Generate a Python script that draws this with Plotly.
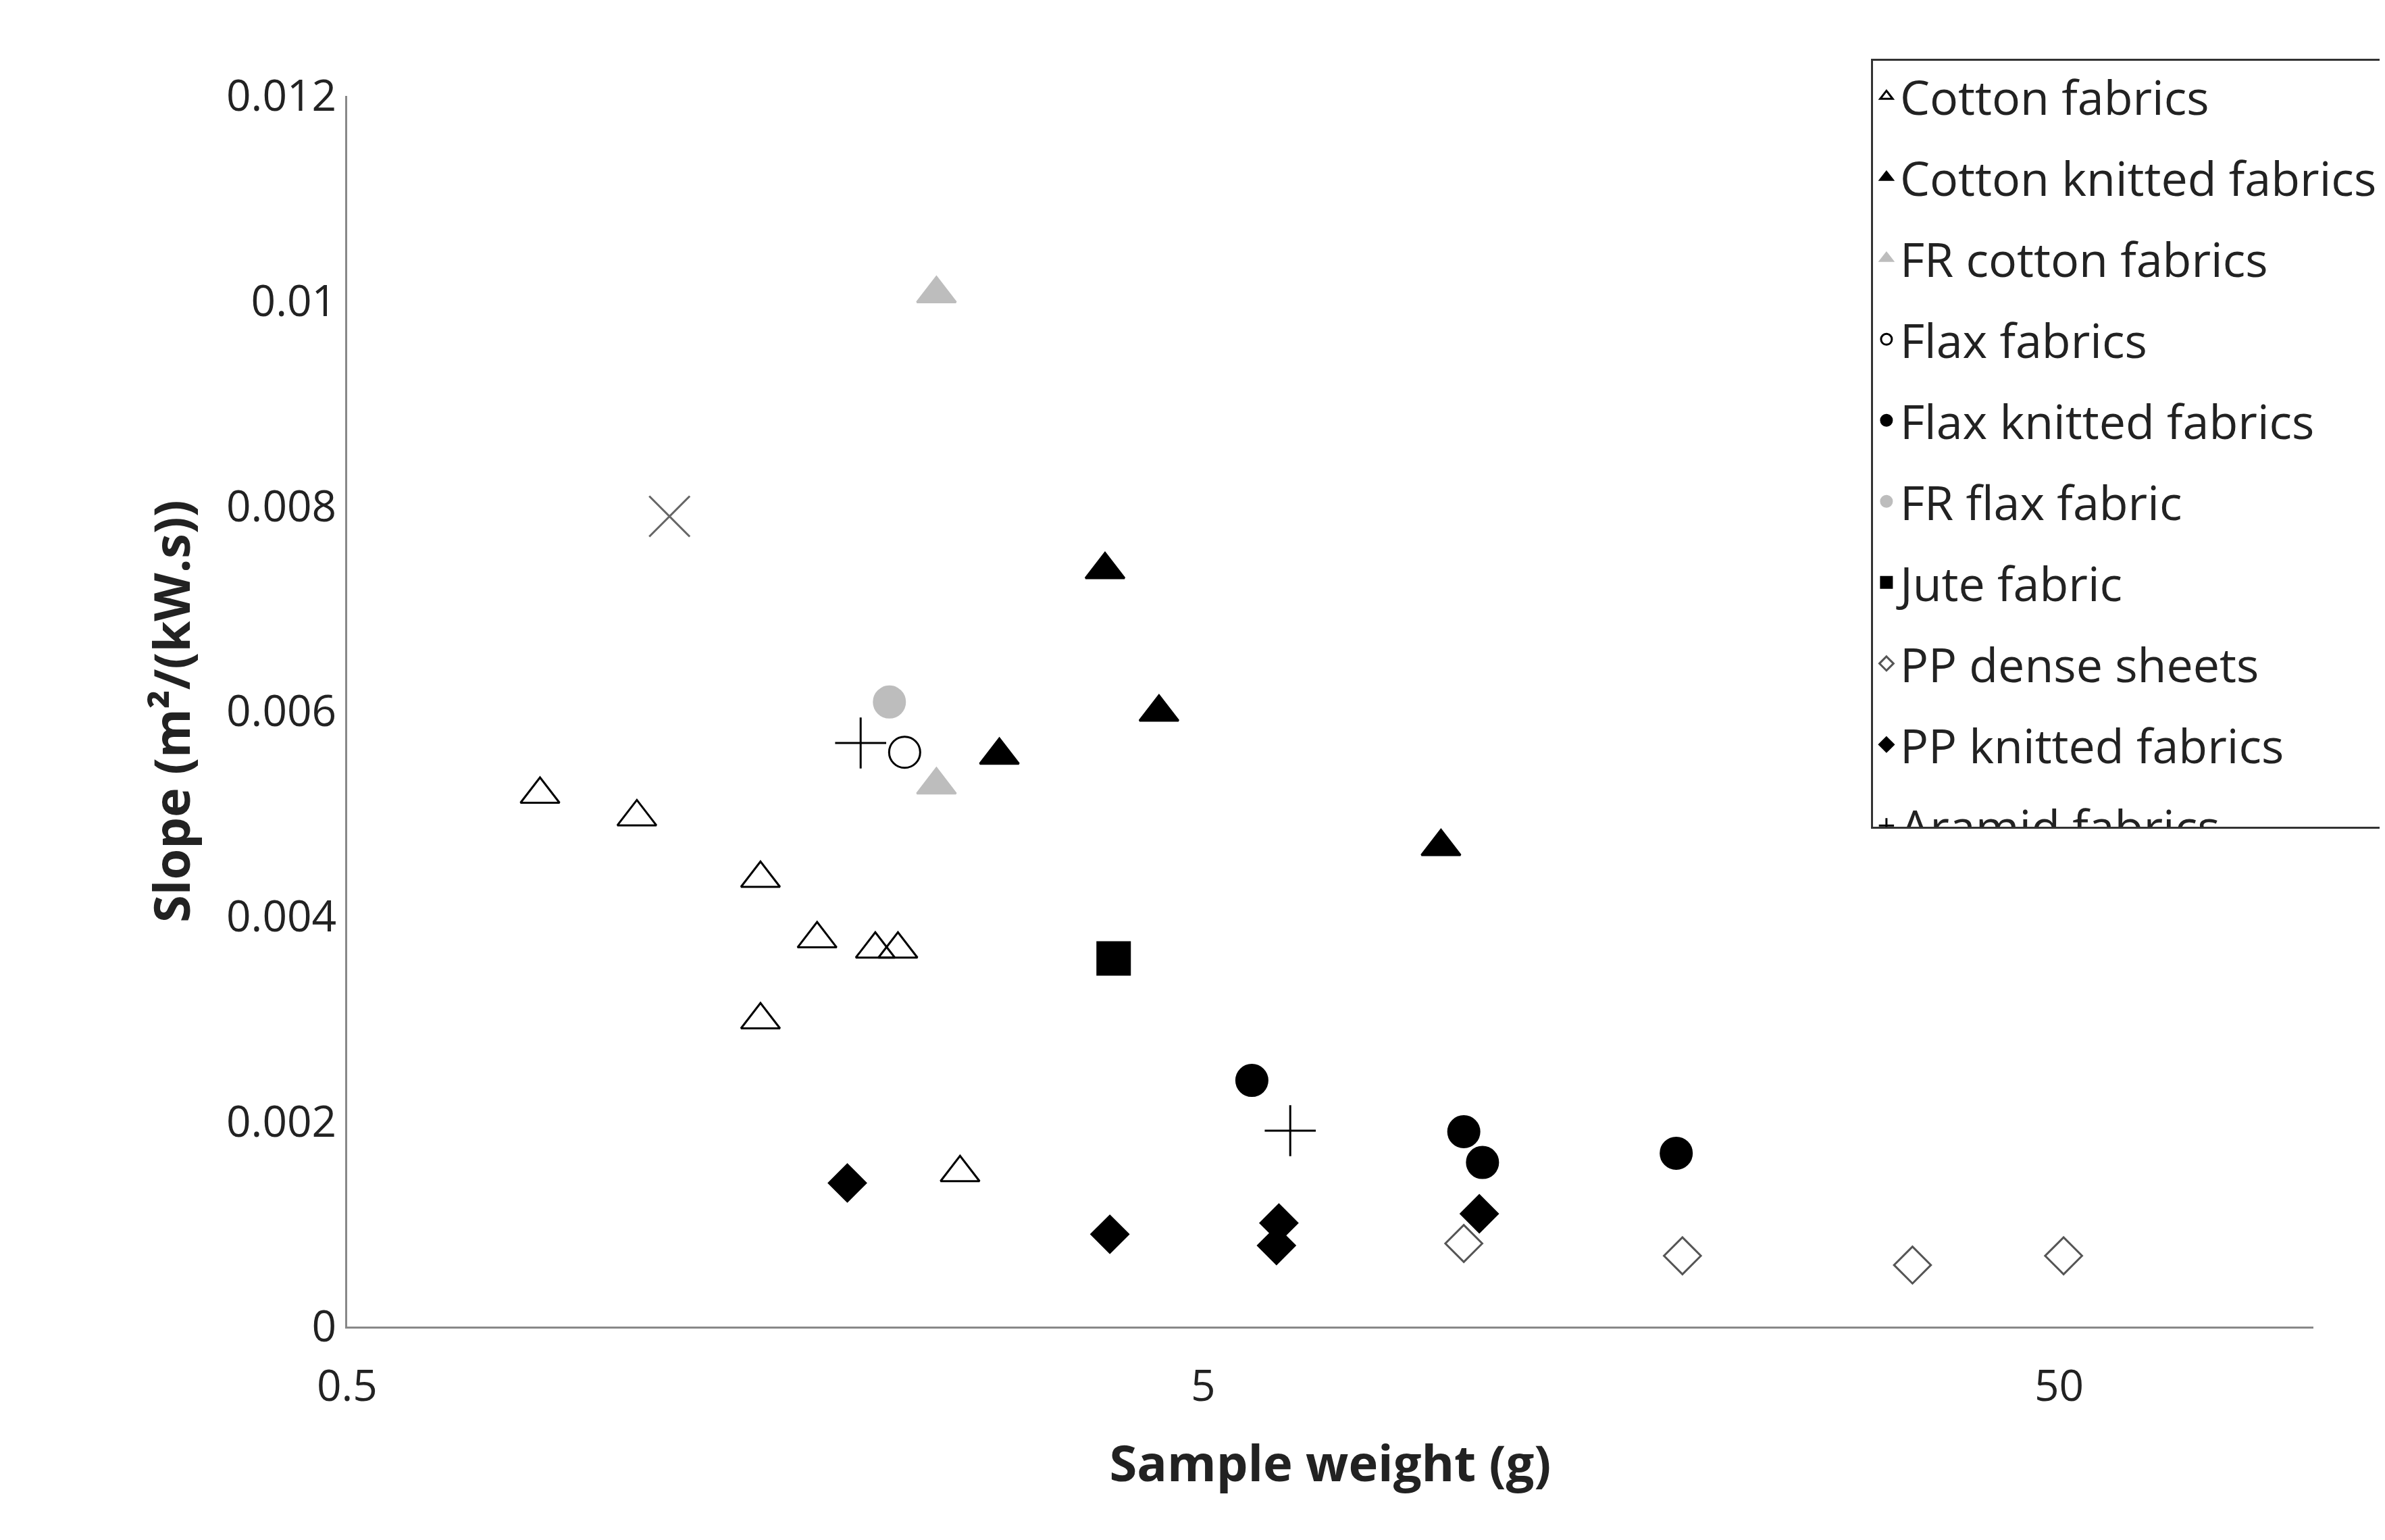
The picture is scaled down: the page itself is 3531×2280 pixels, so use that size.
import plotly.graph_objects as go

# sample weight (g) and slope (m2/(kW.s)) per material
cotton_x = [0.84, 1.09, 1.52, 1.77, 2.07, 2.2, 1.52, 2.6]
cotton_y = [0.00519, 0.00497, 0.00437, 0.00378, 0.00368, 0.00368, 0.00299, 0.0015]
cotton_knit_x = [3.84, 2.89, 4.44, 9.48]
cotton_knit_y = [0.00738, 0.00557, 0.00599, 0.00468]
fr_cotton_x = [2.44, 2.44]
fr_cotton_y = [0.01007, 0.00528]
flax_x = [2.24]
flax_y = [0.0056]
flax_knit_x = [5.7, 10.08, 10.6, 17.85]
flax_knit_y = [0.0024, 0.0019, 0.0016, 0.00169]
fr_flax_x = [2.15]
fr_flax_y = [0.00609]
jute_x = [3.93]
jute_y = [0.00359]
pp_dense_x = [10.08, 18.15, 33.7, 50.6]
pp_dense_y = [0.00081, 0.00069, 0.0006, 0.00069]
pp_knit_x = [1.92, 3.89, 6.13, 6.09, 10.51]
pp_knit_y = [0.0014, 0.0009, 0.00101, 0.00079, 0.0011]
aramid_x = [1.99, 6.32]
aramid_y = [0.00569, 0.00191]
balsa_x = [1.19]
balsa_y = [0.0079]

y_ticks = [0, 0.002, 0.004, 0.006, 0.008, 0.01, 0.012]
y_labels = ["0", "0.002", "0.004", "0.006", "0.008", "0.01", "0.012"]
x_ticks = [0.5, 5, 50]

GREY = "#BDBDBD"
series = [
    ("Cotton fabrics", cotton_x, cotton_y, "triangle-up-open", "black", 50),
    ("Cotton knitted fabrics", cotton_knit_x, cotton_knit_y, "triangle-up", "black", 50),
    ("FR cotton fabrics", fr_cotton_x, fr_cotton_y, "triangle-up", GREY, 50),
    ("Flax fabrics", flax_x, flax_y, "circle-open", "black", 46),
    ("Flax knitted fabrics", flax_knit_x, flax_knit_y, "circle", "black", 46),
    ("FR flax fabric", fr_flax_x, fr_flax_y, "circle", GREY, 46),
    ("Jute fabric", jute_x, jute_y, "square", "black", 48),
    ("PP dense sheets", pp_dense_x, pp_dense_y, "diamond-open", "#555555", 42),
    ("PP knitted fabrics", pp_knit_x, pp_knit_y, "diamond", "black", 42),
    ("Aramid fabrics", aramid_x, aramid_y, "cross-thin-open", "black", 54),
    ("Balsa", balsa_x, balsa_y, "x-thin-open", "#666666", 60),
]

fig = go.Figure()
for name, xs, ys, sym, col, size in series:
    fig.add_trace(go.Scatter(
        x=xs, y=ys, mode="markers", name=name, legendgroup=name,
        marker=dict(symbol=sym, color=col, size=size, line=dict(color=col, width=3)),
    ))

fig.update_layout(
    width=3531, height=2280,
    paper_bgcolor="white", plot_bgcolor="white",
    font=dict(family="Open Sans, Liberation Sans, sans-serif", size=64, color="#222"),
    margin=dict(l=506, r=114, t=134, b=324),
    showlegend=True,
    legend=dict(
        x=1.035, xanchor="right", y=1.03, yanchor="top",
        bordercolor="#333", borderwidth=3, bgcolor="white",
        font=dict(size=70), itemsizing="trace", tracegroupgap=26,
    ),
)
fig.update_xaxes(
    type="log", range=[-0.301, 1.996], tickvals=x_ticks, ticktext=["0.5", "5", "50"],
    showgrid=False, zeroline=False, showline=True, linecolor="#888", linewidth=3,
    ticks="outside", ticklen=30, tickcolor="white",
    title=dict(text="<b>Sample weight (g)</b>", font=dict(size=74), standoff=50),
)
fig.update_yaxes(
    range=[0, 0.012], tickvals=y_ticks, ticktext=y_labels,
    showgrid=False, zeroline=False, showline=True, linecolor="#888", linewidth=3,
    ticks="", ticksuffix="    ",
    title=dict(text="<b>Slope (m²/(kW.s))</b>", font=dict(size=74), standoff=30),
)

fig.write_html("out.html")
